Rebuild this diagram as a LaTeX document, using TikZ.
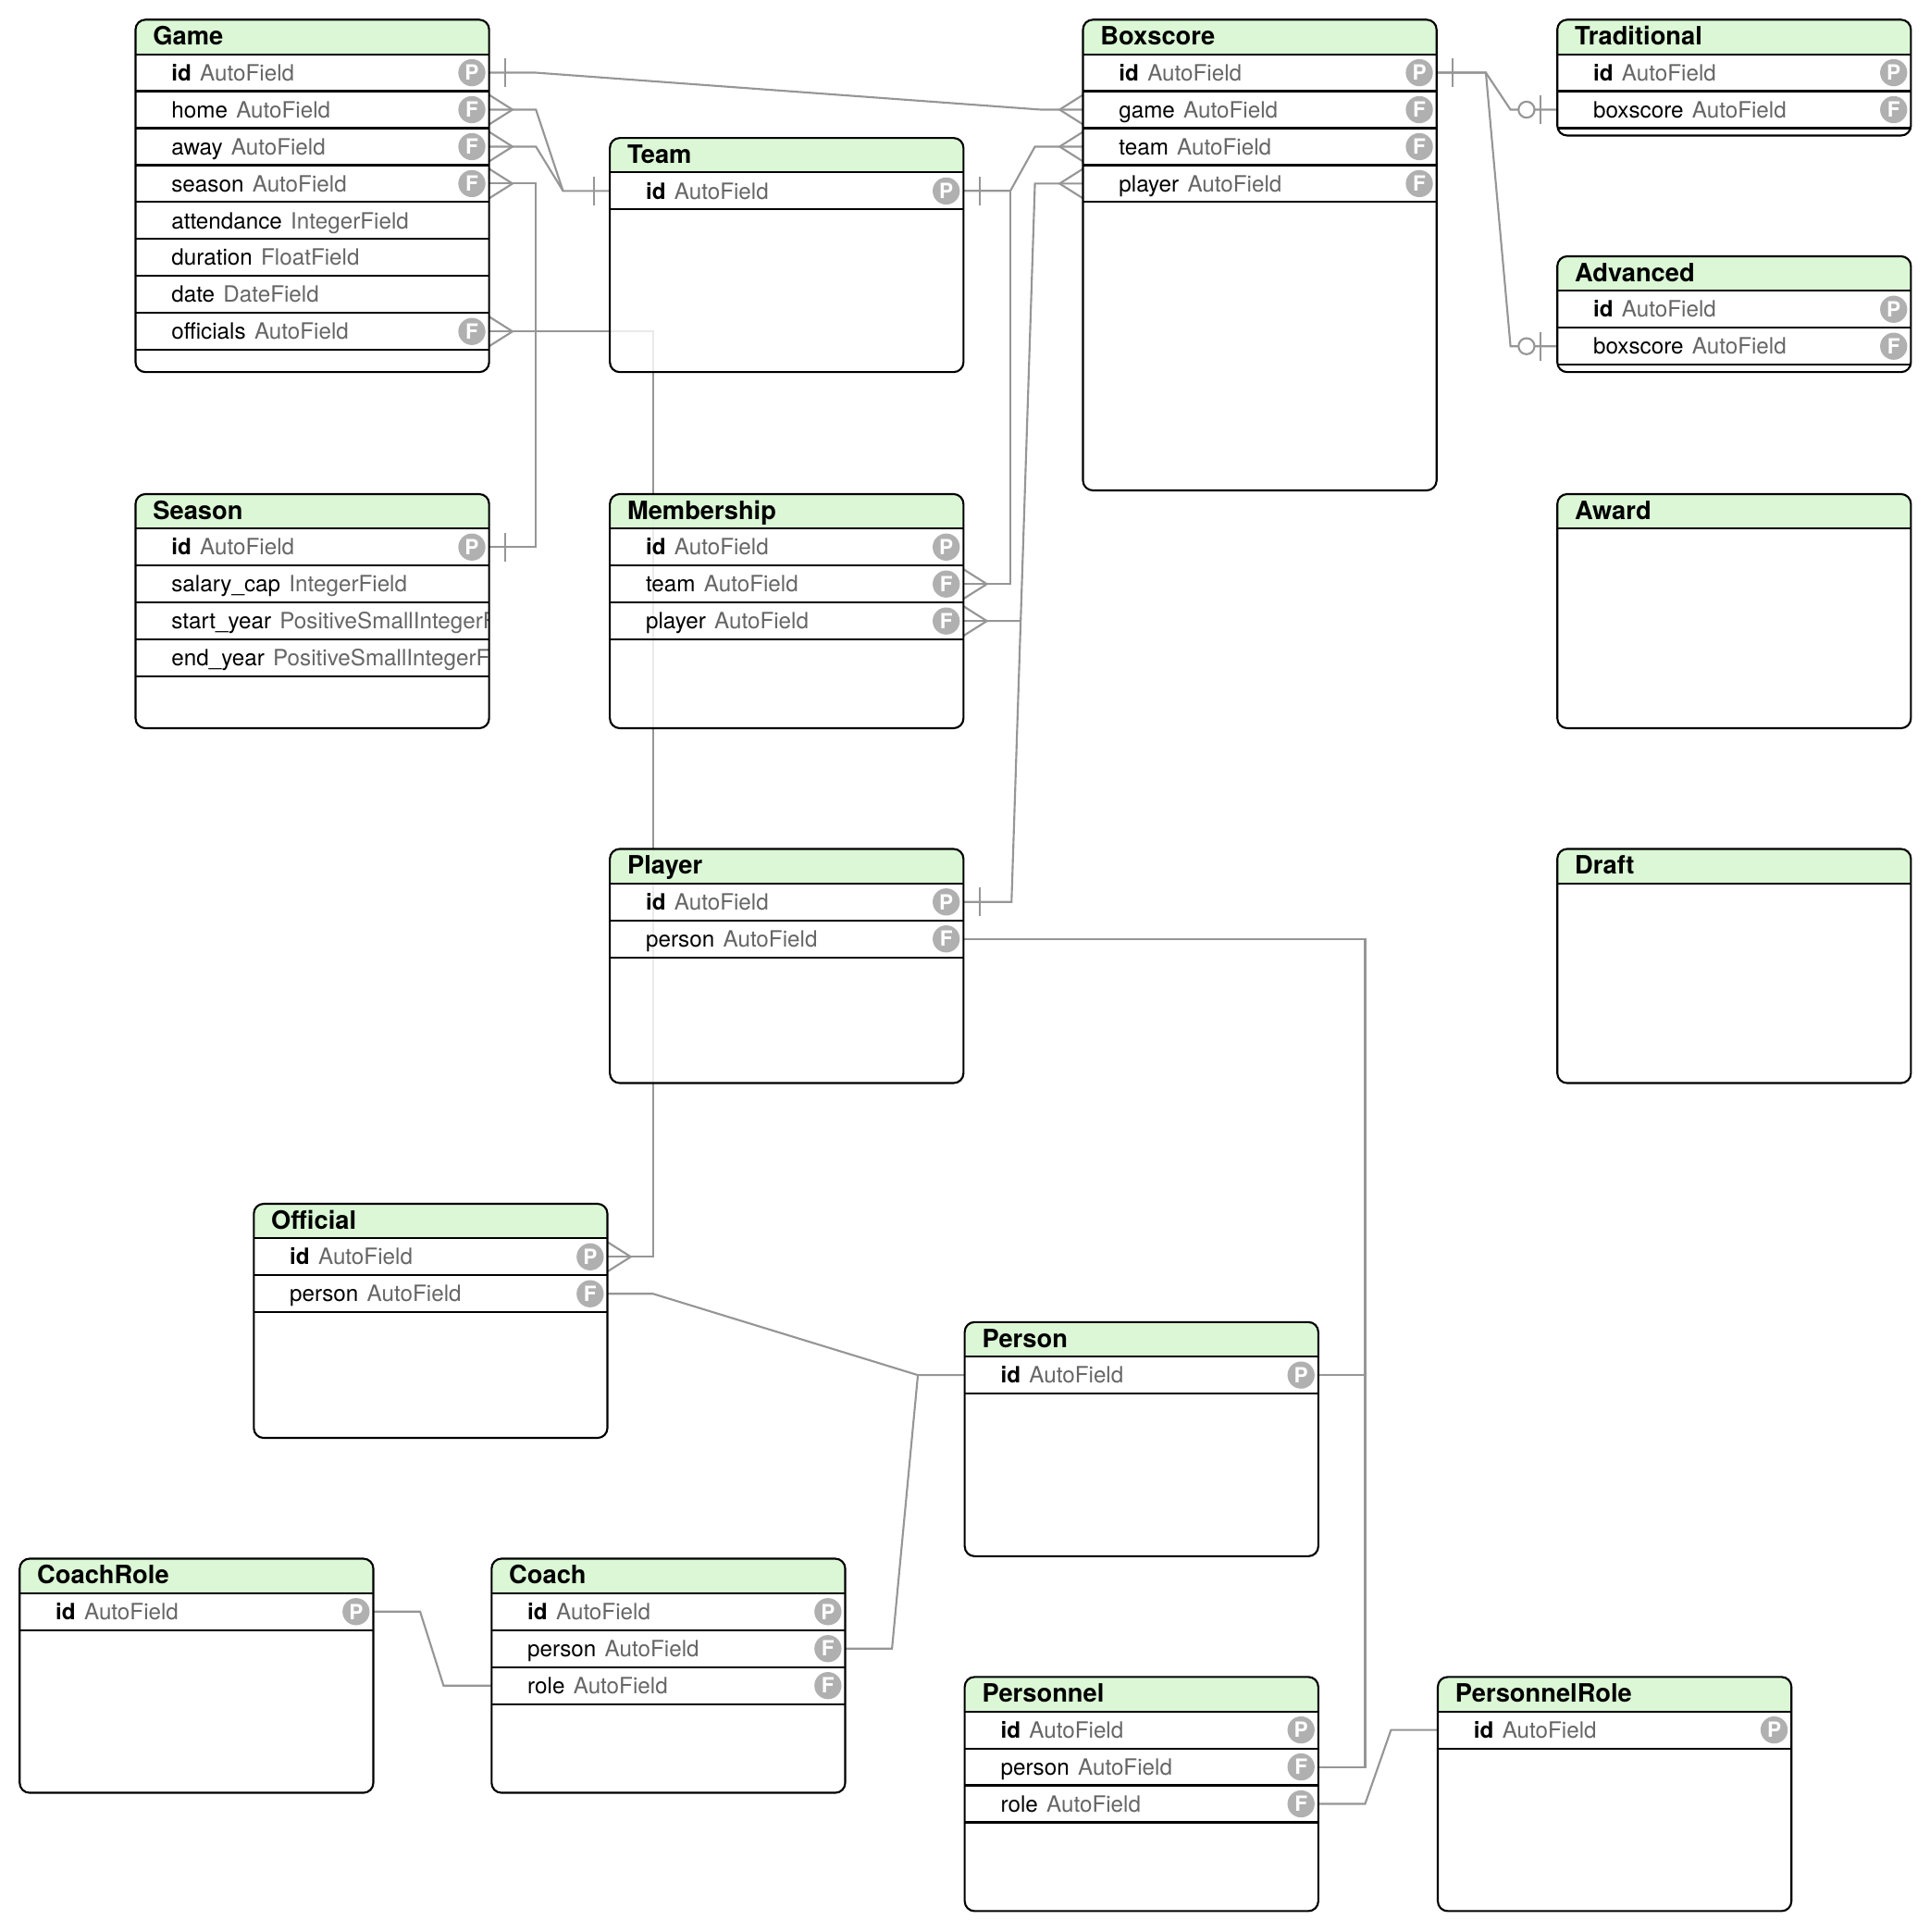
\documentclass[tikz,border=0pt]{standalone}
\usepackage{fontspec}
\setmainfont{TeX Gyre Heros}
\usetikzlibrary{calc,positioning,backgrounds}

\definecolor{hdrgreen}{RGB}{214,246,208}
\definecolor{linkgray}{RGB}{150,150,150}
\definecolor{typegray}{RGB}{102,102,102}
\definecolor{badgegray}{RGB}{176,176,176}

\tikzset{
  tableframe/.style={rectangle, minimum width=287pt, inner sep=0pt, outer sep=0pt, fill=white, fill opacity=.8},
  fieldrow/.style={rectangle, minimum width=287pt, minimum height=30pt, inner sep=0pt, outer sep=0pt},
  fieldtext/.style={inner sep=0pt, font=\fontsize{18.2}{20}\selectfont},
  titletext/.style={inner sep=0pt, font=\fontsize{20.5}{22}\selectfont\bfseries},
  badge/.style={circle, fill=badgegray, text=white, inner sep=0pt, minimum size=22pt, font=\fontsize{17}{17}\selectfont\bfseries},
  rule/.style={line width=1.6pt},
  link/.style={draw=linkgray, line width=1.6pt},
  crowfoot/.pic={\draw[link] (0pt,12pt) -- (19pt,0pt) -- (0pt,-12pt);},
  onebar/.pic={\draw[link] (13pt,11.5pt) -- (13pt,-11.5pt);},
  zeroone/.pic={\draw[link] (13.5pt,11.5pt) -- (13.5pt,-11.5pt);
    \draw[link, fill=white] (25pt,0pt) circle (6.5pt);}
}

\def\ernobadge{-}
% #1 name, #2 title, #3 north west corner, #4 height, #5 rows key/name/type/badge
\newcommand{\ertable}[5]{%
  \node[tableframe, minimum height=#4pt, anchor=north west] (#1) at #3 {};
  \begin{scope}
    \clip[rounded corners=8pt] (#1.north west) rectangle (#1.south east);
    \fill[hdrgreen, fill opacity=.85] (#1.north west) rectangle ([yshift=-28pt]#1.north east);
    \draw[rule] ([yshift=-28pt]#1.north west) -- ([yshift=-28pt]#1.north east);
    \def\ertablerows{#5}%
    \ifx\ertablerows\empty\else
    \foreach \key/\fname/\ftype/\badge [count=\i] in {#5} {
      \node[fieldrow, anchor=north west] (#1-\key) at ([yshift={-28pt-30pt*(\i-1)}]#1.north west) {};
      \node[fieldtext, anchor=base west] (#1-\key-text) at ([xshift=29pt, yshift=-6.5pt]#1-\key.west)
        {\fname\hspace{7pt}\textcolor{typegray}{\ftype}};
      \draw[rule] (#1-\key.south west) -- (#1-\key.south east);
      \ifx\badge\ernobadge\else
        \node[badge] (#1-\key-badge) at ([xshift=-14pt]#1-\key.east) {\badge};
      \fi
    }
    \fi
  \end{scope}
  \node[titletext, anchor=base west] (#1-title) at ([xshift=14pt, yshift=-20.5pt]#1.north west) {#2};
  \draw[rule, rounded corners=8pt] (#1.north west) rectangle (#1.south east);
}

\begin{document}
\begin{tikzpicture}[x=1pt, y=-1pt]
\useasboundingbox (0,0) rectangle (1566,1568);

% tables
\ertable{game}{Game}{(110,16)}{286}{id/\textbf{id}/AutoField/P,home/home/AutoField/F,away/away/AutoField/F,season/season/AutoField/F,attendance/attendance/IntegerField/-,duration/duration/FloatField/-,date/date/DateField/-,officials/officials/AutoField/F}
\ertable{team}{Team}{(495,112)}{190}{id/\textbf{id}/AutoField/P}
\ertable{box}{Boxscore}{(879,16)}{382}{id/\textbf{id}/AutoField/P,game/game/AutoField/F,team/team/AutoField/F,player/player/AutoField/F}
\ertable{trad}{Traditional}{(1264,16)}{94}{id/\textbf{id}/AutoField/P,boxscore/boxscore/AutoField/F}
\ertable{adv}{Advanced}{(1264,208)}{94}{id/\textbf{id}/AutoField/P,boxscore/boxscore/AutoField/F}
\ertable{season}{Season}{(110,401)}{190}{id/\textbf{id}/AutoField/P,salarycap/salary\_cap/IntegerField/-,startyear/start\_year/PositiveSmallIntegerField/-,endyear/end\_year/PositiveSmallIntegerField/-}
\ertable{member}{Membership}{(495,401)}{190}{id/\textbf{id}/AutoField/P,team/team/AutoField/F,player/player/AutoField/F}
\ertable{award}{Award}{(1264,401)}{190}{}
\ertable{player}{Player}{(495,689)}{190}{id/\textbf{id}/AutoField/P,person/person/AutoField/F}
\ertable{draft}{Draft}{(1264,689)}{190}{}
\ertable{official}{Official}{(206,977)}{190}{id/\textbf{id}/AutoField/P,person/person/AutoField/F}
\ertable{person}{Person}{(783,1073)}{190}{id/\textbf{id}/AutoField/P}
\ertable{coachrole}{CoachRole}{(16,1265)}{190}{id/\textbf{id}/AutoField/P}
\ertable{coach}{Coach}{(399,1265)}{190}{id/\textbf{id}/AutoField/P,person/person/AutoField/F,role/role/AutoField/F}
\ertable{personnel}{Personnel}{(783,1361)}{190}{id/\textbf{id}/AutoField/P,person/person/AutoField/F,role/role/AutoField/F}
\ertable{prole}{PersonnelRole}{(1167,1361)}{190}{id/\textbf{id}/AutoField/P}

% relations, behind the tables
\begin{scope}[on background layer]
\draw[link] (game-id.east) -- ++(38,0) -- ([xshift=-34pt]box-game.west) -- (box-game.west);
\draw[link] (game-home.east) -- ++(38,0) -- ([xshift=-38pt]team-id.west) -- (team-id.west);
\draw[link] (game-away.east) -- ++(38,0) -- ([xshift=-38pt]team-id.west);
\draw[link] (game-season.east) -- ++(38,0) |- (season-id.east);
\draw[link] (game-officials.east) -- ++(133,0) |- (official-id.east);
\draw[link] (team-id.east) -- ++(38,0) -- ([xshift=-39pt]box-team.west) -- (box-team.west);
\draw[link] (team-id.east) -- ++(38,0) |- (member-team.east);
\coordinate (plbend) at ([xshift=39pt]player-id.east);
\coordinate (bxbend) at ([xshift=-39pt]box-player.west);
\draw[link] (player-id.east) -- (plbend) -- (bxbend) -- (box-player.west);
\draw[link] (member-player.east) -- (intersection of plbend--bxbend and member-player.east--member-player.west);
\draw[link] (box-id.east) -- ++(40,0) -- ([xshift=-38pt]trad-boxscore.west) -- (trad-boxscore.west);
\draw[link] (box-id.east) -- ++(40,0) -- ([xshift=-38pt]adv-boxscore.west) -- (adv-boxscore.west);
\draw[link] (official-person.east) -- ++(37,0) -- ([xshift=-38pt]person-id.west) -- (person-id.west);
\draw[link] (coach-person.east) -- ++(38,0) -- ([xshift=-38pt]person-id.west);
\draw[link] (player-person.east) -| ([xshift=38pt]personnel-person.east) -- (personnel-person.east);
\draw[link] (person-id.east) -- ++(38,0);
\draw[link] (coachrole-id.east) -- ++(38,0) -- ([xshift=-39pt]coach-role.west) -- (coach-role.west);
\draw[link] (prole-id.west) -- ++(-38,0) -- ([xshift=38pt]personnel-role.east) -- (personnel-role.east);

% cardinality marks
\pic at (game-id.east) {onebar};
\foreach \f in {home,away,season,officials}
  \pic at (game-\f.east) {crowfoot};
\pic[xscale=-1] at (team-id.west) {onebar};
\pic at (team-id.east) {onebar};
\pic at (season-id.east) {onebar};
\pic at (official-id.east) {crowfoot};
\pic at (player-id.east) {onebar};
\foreach \f in {team,player}
  \pic at (member-\f.east) {crowfoot};
\foreach \f in {game,team,player}
  \pic[xscale=-1] at (box-\f.west) {crowfoot};
\pic at (box-id.east) {onebar};
\pic[xscale=-1] at (trad-boxscore.west) {zeroone};
\pic[xscale=-1] at (adv-boxscore.west) {zeroone};
\end{scope}
\end{tikzpicture}
\end{document}
